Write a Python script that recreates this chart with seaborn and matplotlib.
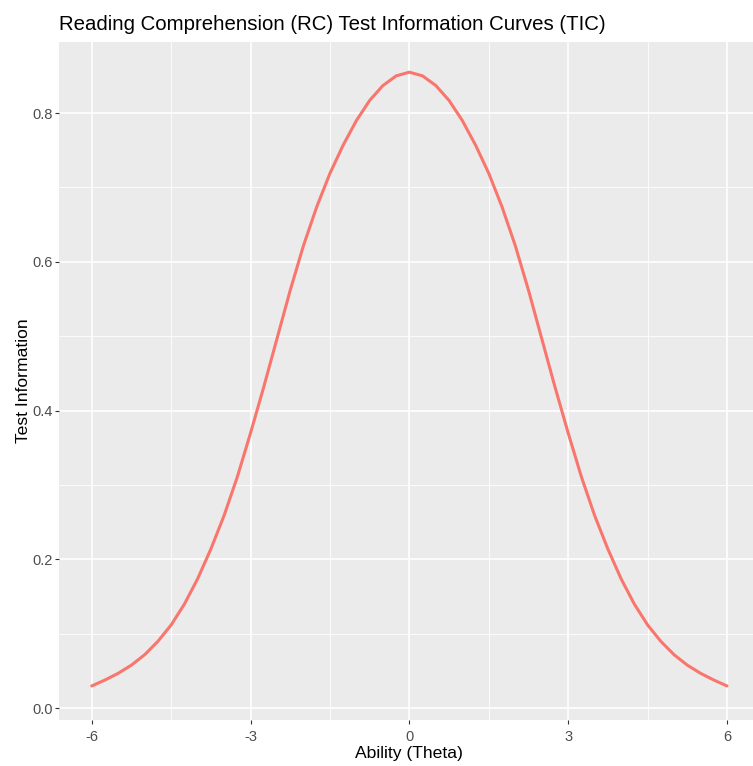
#!/usr/bin/env python3

"""Test information curve for the Reading Comprehension test, ggplot look"""

import numpy as np
import pandas as pd
import seaborn as sns
import matplotlib.pyplot as plt
from matplotlib.ticker import MultipleLocator

# DATA
Theta = [-6.0, -5.75, -5.5, -5.25, -5.0, -4.75, -4.5, -4.25, -4.0, -3.75, -3.5, -3.25,
         -3.0, -2.75, -2.5, -2.25, -2.0, -1.75, -1.5, -1.25, -1.0, -0.75, -0.5, -0.25,
         0.0, 0.25, 0.5, 0.75, 1.0, 1.25, 1.5, 1.75, 2.0, 2.25, 2.5, 2.75,
         3.0, 3.25, 3.5, 3.75, 4.0, 4.25, 4.5, 4.75, 5.0, 5.25, 5.5, 5.75, 6.0]
Information = [0.030, 0.038, 0.047, 0.058, 0.072, 0.090, 0.112, 0.140, 0.174, 0.214, 0.259, 0.311,
               0.370, 0.432, 0.497, 0.562, 0.622, 0.674, 0.719, 0.757, 0.790, 0.817, 0.837, 0.850,
               0.855, 0.850, 0.837, 0.817, 0.790, 0.757, 0.719, 0.674, 0.622, 0.562, 0.497, 0.432,
               0.370, 0.311, 0.259, 0.214, 0.174, 0.140, 0.112, 0.090, 0.072, 0.058, 0.047, 0.038, 0.030]
XTicks = [-6, -3, 0, 3, 6]
YTicks = [0.0, 0.2, 0.4, 0.6, 0.8]

DataSet = pd.DataFrame({"Theta": Theta, "Information": Information})

# THEME (ggplot2 grey)
sns.set_theme(style="darkgrid", rc={
    "axes.facecolor": "#EBEBEB",
    "figure.facecolor": "white",
    "grid.color": "white",
    "axes.edgecolor": "#EBEBEB",
})
plt.rcParams['font.family'] = ['Liberation Sans', 'DejaVu Sans']

fig = plt.figure(figsize=(7.53, 7.66), dpi=100)
ax = fig.add_axes([0.0788, 0.0601, 0.9297, 0.8855])

sns.lineplot(data=DataSet, x="Theta", y="Information", ax=ax,
             color="#F8766D", linewidth=2.2)

ax.set_xlim(-6.612, 6.612)
ax.set_ylim(-0.0157, 0.896)
ax.set_xticks(XTicks)
ax.set_xticklabels([str(t) for t in XTicks])
ax.set_yticks(YTicks)
ax.set_yticklabels([f"{t:.1f}" for t in YTicks])
ax.xaxis.set_minor_locator(MultipleLocator(1.5))
ax.yaxis.set_minor_locator(MultipleLocator(0.1))
ax.grid(which="major", color="white", linewidth=1.2)
ax.grid(which="minor", color="white", linewidth=0.6)
ax.tick_params(which="major", length=3, width=0.8, color="#333333",
               labelsize=10.5, labelcolor="#4D4D4D", bottom=True, left=True)
ax.tick_params(axis="x", pad=4)
ax.tick_params(axis="y", pad=2)
ax.tick_params(which="minor", length=0)
for s in ax.spines.values():
    s.set_visible(False)

ax.set_xlabel("Ability (Theta)", fontsize=12.6, color="black", labelpad=2)
ax.set_ylabel("Test Information", fontsize=12.6, color="black", labelpad=1)
fig.text(0.0788, 1 - 25 / 766, "Reading Comprehension (RC) Test Information Curves (TIC)",
         fontsize=14.7, color="black", va="center", ha="left")

fig.savefig("out.png", dpi=100)
